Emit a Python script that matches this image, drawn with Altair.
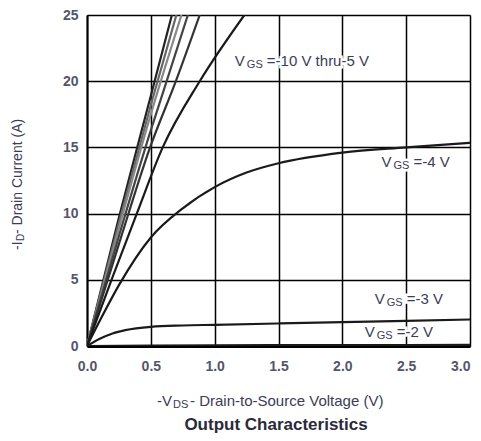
import altair as alt
import pandas as pd

# ---- data (x: -VDS in V, y: -ID in A) ----
vds_m10 = [0, 0.25, 0.5, 0.665]
id_m10 = [0, 9.7, 18.9, 25]
vds_m9 = [0, 0.25, 0.5, 0.70]
id_m9 = [0, 9.3, 18.2, 25]
vds_m8 = [0, 0.25, 0.5, 0.74]
id_m8 = [0, 8.9, 17.5, 25]
vds_m7 = [0, 0.25, 0.5, 0.624, 0.79]
id_m7 = [0, 8.3, 16.3, 20, 25]
vds_m6 = [0, 0.25, 0.494, 0.696, 0.883]
id_m6 = [0, 7.7, 15, 20, 25]
vds_m5 = [0, 0.2, 0.39, 0.593, 0.883, 1.233]
id_m5 = [0, 5.2, 10.0, 15, 20, 25]
vds_m4 = [0, 0.1, 0.25, 0.5, 0.75, 1.0, 1.25, 1.5, 2.0, 2.5, 3.0]
id_m4 = [0, 1.9, 4.6, 8.2, 10.4, 12.0, 13.1, 13.8, 14.6, 15.0, 15.35]
vds_m3 = [0, 0.1, 0.2, 0.3, 0.5, 0.75, 1.0, 1.5, 2.0, 2.5, 3.0]
id_m3 = [0, 0.55, 0.95, 1.2, 1.45, 1.55, 1.6, 1.7, 1.8, 1.9, 2.0]
vds_m2 = [0, 0.5, 1.0, 2.0, 3.0]
id_m2 = [0, 0.03, 0.05, 0.07, 0.08]

series = {
    "-10": (vds_m10, id_m10),
    "-9": (vds_m9, id_m9),
    "-8": (vds_m8, id_m8),
    "-7": (vds_m7, id_m7),
    "-6": (vds_m6, id_m6),
    "-5": (vds_m5, id_m5),
    "-4": (vds_m4, id_m4),
    "-3": (vds_m3, id_m3),
    "-2": (vds_m2, id_m2),
}
line_color = {"-10": "#222222", "-9": "#666666", "-8": "#888888", "-7": "#444444",
              "-6": "#333333", "-5": "#1a1a1a", "-4": "#1a1a1a", "-3": "#1a1a1a", "-2": "#1a1a1a"}

rows = []
for k, (xs_, ys_) in series.items():
    for i, (xv, yv) in enumerate(zip(xs_, ys_)):
        rows.append({"vgs": k, "vds": xv, "id": yv, "i": i, "col": line_color[k]})
df = pd.DataFrame(rows)

x_ticks = [0.0, 0.5, 1.0, 1.5, 2.0, 2.5, 3.0]
y_ticks = [0, 5, 10, 15, 20, 25]

# curve labels: anchor (V, A) of the leading "V", and the rest of the text
lab_text = ["=-10 V thru-5 V", "=-4 V", "=-3 V", "=-2 V"]
lab_x = [1.158, 2.306, 2.254, 2.175]
lab_y = [21.5, 13.9, 3.55, 1.06]
labels = pd.DataFrame({"rest": lab_text, "vds": lab_x, "id": lab_y,
                       "v": ["V"] * 4, "gs": ["GS"] * 4})

FONT = "Liberation Sans"
TXT = "#3c3c58"

xs = alt.X("vds:Q", scale=alt.Scale(domain=[0, 3], nice=False, zero=False),
           axis=alt.Axis(values=x_ticks, format=".1f", title=None, grid=True,
                         gridColor="black", gridWidth=1.5, gridOpacity=1,
                         domainColor="black", domainWidth=3, tickSize=0,
                         labelFont=FONT, labelFontSize=14, labelFontWeight="bold",
                         labelColor="#55556a", labelPadding=13, labelFlush=False,
                         labelAlign=alt.expr("datum.value >= 3 ? 'right' : 'center'")))
ys = alt.Y("id:Q", scale=alt.Scale(domain=[0, 25], nice=False),
           axis=alt.Axis(values=y_ticks, title=None, grid=True,
                         gridColor="black", gridWidth=1.5, gridOpacity=1,
                         domainColor="black", domainWidth=2, tickSize=0,
                         labelFont=FONT, labelFontSize=14, labelFontWeight="bold",
                         labelColor="#55556a", labelPadding=9))

lines = alt.Chart(df).mark_line(strokeWidth=2.2, clip=True, interpolate="monotone").encode(
    x=xs, y=ys, detail="vgs:N", order="i:Q",
    color=alt.Color("col:N", scale=None))

lx = alt.X("vds:Q")
ly = alt.Y("id:Q")
base_lab = alt.Chart(labels)
halo = dict(font=FONT, align="left", baseline="middle", stroke="white", strokeWidth=5, fill="white")
norm = dict(font=FONT, align="left", baseline="middle", fill=TXT)
lab_layers = []
for props in (halo, norm):
    lab_layers.append(base_lab.mark_text(fontSize=15, **props).encode(x=lx, y=ly, text="v:N"))
    lab_layers.append(base_lab.mark_text(fontSize=11, dx=12, dy=4, **props).encode(x=lx, y=ly, text="gs:N"))
    lab_layers.append(base_lab.mark_text(fontSize=15, dx=32, **props).encode(x=lx, y=ly, text="rest:N"))


def ptext(t, px, py, size, dx=0, dy=0, angle=0, weight="normal", align="left", color=TXT):
    kw = dict(font=FONT, fontSize=size, dx=dx, dy=dy, align=align, baseline="middle",
              color=color, fontWeight=weight)
    if angle:
        kw["angle"] = angle
    return alt.Chart(pd.DataFrame({"t": [t]})).mark_text(**kw).encode(
        text="t:N", x=alt.value(px), y=alt.value(py))


titles = [
    # x axis title
    ptext("-V", 70, 386, 15),
    ptext("DS", 70, 386, 11, dx=16, dy=4),
    ptext(" - Drain-to-Source Voltage (V)", 70, 386, 15, dx=33),
    # y axis title (rotated)
    ptext("-I", -69, 235, 14, angle=270),
    ptext("D", -69, 235, 10, dx=9, dy=3, angle=270),
    ptext(" - Drain Current (A)", -69, 235, 14, dx=16, angle=270),
    # chart caption
    ptext("Output Characteristics", 189, 410, 17, weight="bold", align="center", color="#2a2a3a"),
]

chart = alt.layer(lines, *lab_layers, *titles).properties(
    width=383, height=331,
    autosize=alt.AutoSizeParams(type="none"),
    padding={"left": 79, "top": 7, "right": 3, "bottom": 87},
).configure_view(stroke="black", strokeWidth=1.5).configure(background="white")

chart.save("out.html", embed_options={"renderer": "svg", "actions": False})
